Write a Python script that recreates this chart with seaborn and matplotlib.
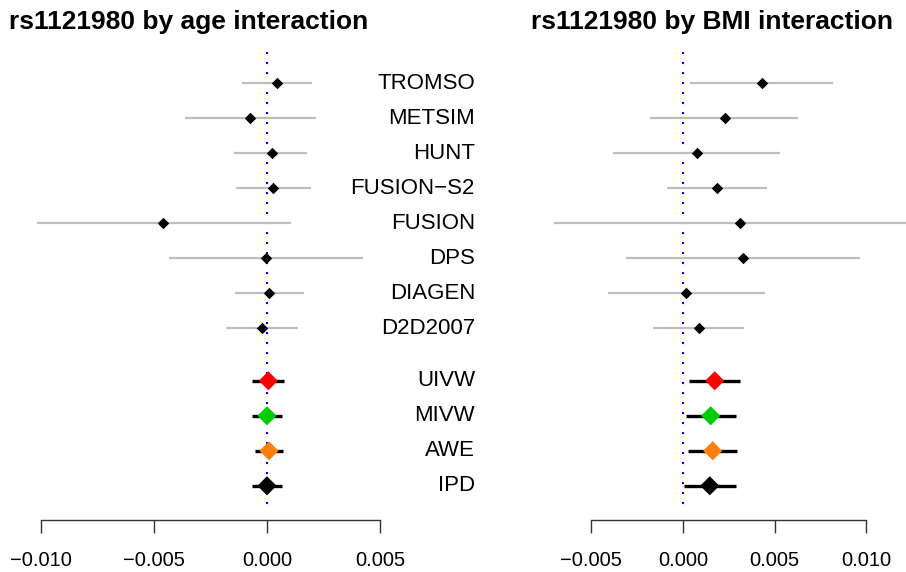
import numpy as np
import pandas as pd
import matplotlib
matplotlib.use("Agg")
import matplotlib.pyplot as plt
import matplotlib.transforms as mtransforms
import seaborn as sns

sns.set_style("white")
plt.rcParams['font.family'] = ['Liberation Sans', 'DejaVu Sans']
plt.rcParams['text.color'] = 'black'
plt.rcParams['xtick.color'] = 'black'

# ---- data ----
studies = ['TROMSO', 'METSIM', 'HUNT', 'FUSION\u2212S2', 'FUSION', 'DPS', 'DIAGEN', 'D2D2007']
pooled = ['UIVW', 'MIVW', 'AWE', 'IPD']
pooled_colors = ['#FF0000', '#00CD00', '#FF7F0E', '#000000']

age_est = [0.00043, -0.00075, 0.00021, 0.00028, -0.00458, -0.00006, 0.00010, -0.00021]
age_lo = [-0.00109, -0.00362, -0.00144, -0.00137, -0.01018, -0.00433, -0.00140, -0.00180]
age_hi = [0.00198, 0.00215, 0.00178, 0.00193, 0.00105, 0.00426, 0.00164, 0.00136]
age_pool_est = [0.00006, 0.00000, 0.00009, 0.00000]
age_pool_lo = [-0.00068, -0.00068, -0.00053, -0.00065]
age_pool_hi = [0.00075, 0.00065, 0.00069, 0.00065]

bmi_est = [0.00431, 0.00227, 0.00076, 0.00187, 0.00312, 0.00329, 0.00018, 0.00087]
bmi_lo = [0.00040, -0.00178, -0.00380, -0.00087, -0.00705, -0.00311, -0.00410, -0.00162]
bmi_hi = [0.00818, 0.00630, 0.00530, 0.00460, 0.01330, 0.00966, 0.00445, 0.00334]
bmi_pool_est = [0.00173, 0.00151, 0.00162, 0.00146]
bmi_pool_lo = [0.00034, 0.00016, 0.00027, 0.00007]
bmi_pool_hi = [0.00309, 0.00287, 0.00296, 0.00287]

age_ticks = [-0.010, -0.005, 0.000, 0.005]
bmi_ticks = [-0.005, 0.000, 0.005, 0.010]

# row positions (top to bottom), pooled block after a gap of 1.5 rows
study_pos = np.arange(len(studies), dtype=float)
pooled_pos = study_pos[-1] + 1.5 + np.arange(len(pooled), dtype=float)

W, H = 906, 572
fig = plt.figure(figsize=(W / 100, H / 100), dpi=100)

Y_TOP, Y_BOT = -0.894, 12.477


def make_axes(px_left, px_right, zero_px, px_per_unit):
    ax = fig.add_axes([px_left / W, (H - 520) / H, (px_right - px_left) / W, 468 / H])
    ax.set_xlim((px_left - zero_px) / px_per_unit, (px_right - zero_px) / px_per_unit)
    ax.set_ylim(Y_BOT, Y_TOP)
    return ax


def draw_panel(ax, est, lo, hi, p_est, p_lo, p_hi, ticks, title, title_x):
    ax.vlines(0, Y_TOP, 12.2, colors='blue', linestyles=(0, (1, 3.8)), lw=1.5, zorder=1)
    ax.hlines(study_pos, lo, hi, colors='#BEBEBE', lw=1.6, zorder=2)
    df = pd.DataFrame({'est': est, 'pos': study_pos})
    sns.scatterplot(data=df, x='est', y='pos', ax=ax, marker='D', color='black',
                    s=34, linewidth=0, zorder=3, legend=False)
    ax.hlines(pooled_pos, p_lo, p_hi, colors='black', lw=2.4, zorder=2)
    dfp = pd.DataFrame({'est': p_est, 'pos': pooled_pos, 'grp': pooled})
    sns.scatterplot(data=dfp, x='est', y='pos', hue='grp', palette=dict(zip(pooled, pooled_colors)),
                    ax=ax, marker='D', s=95, linewidth=0, zorder=3, legend=False)
    for s in ['left', 'top', 'right']:
        ax.spines[s].set_visible(False)
    ax.spines['bottom'].set_bounds(ticks[0], ticks[-1])
    ax.spines['bottom'].set_color('#333333')
    ax.spines['bottom'].set_linewidth(1.0)
    ax.set_xticks(ticks)
    ax.set_xticklabels([f"{t:.3f}".replace('-', '\u2212') for t in ticks])
    ax.tick_params(axis='x', direction='out', length=9, width=1.0, color='#333333',
                   labelcolor='black', labelsize=14.5, pad=13, bottom=True)
    ax.set_yticks([])
    ax.set_xlabel('')
    ax.set_ylabel('')
    ax.patch.set_alpha(0)
    fig.text(title_x / W, 1 - 22 / H, title, fontsize=19, fontweight='bold',
             ha='left', va='center', color='black')


ax_age = make_axes(20, 440, 267.0, 22620.0)
ax_bmi = make_axes(540, 906, 683.0, 18333.0)

draw_panel(ax_age, age_est, age_lo, age_hi, age_pool_est, age_pool_lo, age_pool_hi,
           age_ticks, 'rs1121980 by age interaction', 9)
draw_panel(ax_bmi, bmi_est, bmi_lo, bmi_hi, bmi_pool_est, bmi_pool_lo, bmi_pool_hi,
           bmi_ticks, 'rs1121980 by BMI interaction', 531)

# study labels between the panels, right aligned
trans = mtransforms.blended_transform_factory(fig.transFigure, ax_age.transData)
for name, pos in zip(studies + pooled, np.concatenate([study_pos, pooled_pos])):
    ax_age.text(475 / W, pos, name, transform=trans, ha='right', va='center',
                fontsize=16, color='black', clip_on=False)

fig.savefig('out.png', dpi=100)
